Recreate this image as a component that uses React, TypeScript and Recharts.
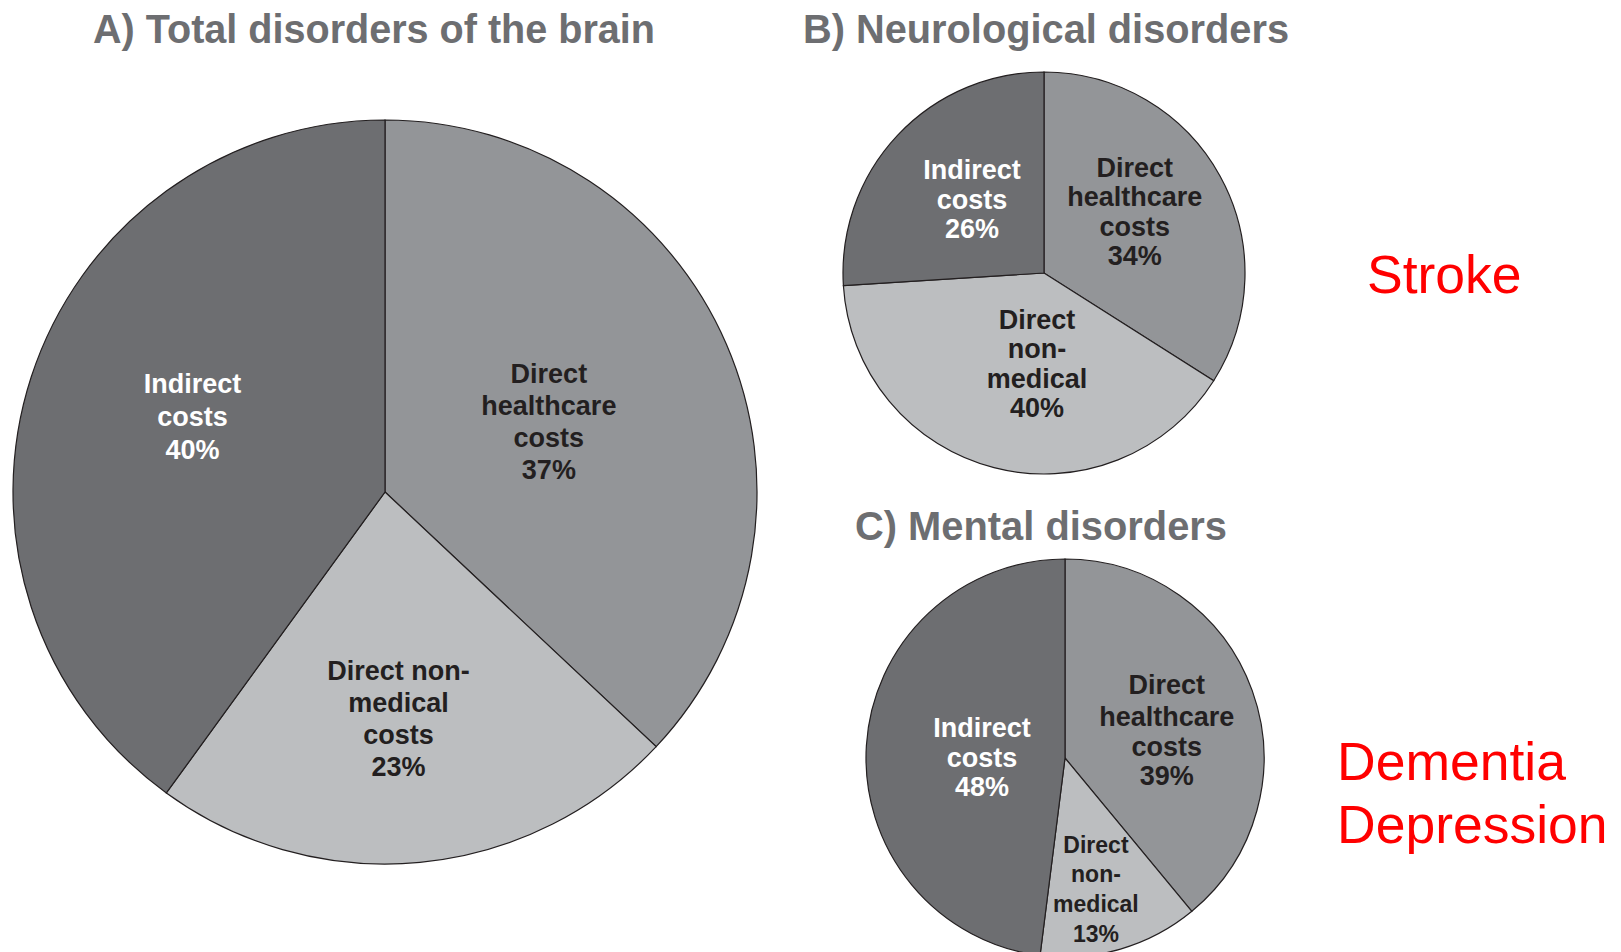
import { Cell, Pie, PieChart } from "recharts";

// slice order: clockwise from 12 o'clock
const categories = ["Direct healthcare costs", "Direct non-medical costs", "Indirect costs"];
const totalValues = [37, 23, 40];
const neuroValues = [34, 40, 26];
const mentalValues = [39, 13, 48];

const totalLabels = [["Direct", "healthcare", "costs"], ["Direct non-", "medical", "costs"], ["Indirect", "costs"]];
const neuroLabels = [["Direct", "healthcare", "costs"], ["Direct", "non-", "medical"], ["Indirect", "costs"]];
const mentalLabels = [["Direct", "healthcare", "costs"], ["Direct", "non-", "medical"], ["Indirect", "costs"]];

const panelTitles = ["A) Total disorders of the brain", "B) Neurological disorders", "C) Mental disorders"];
const strokeNotes = ["Stroke"];
const mentalNotes = ["Dementia", "Depression"];

const fills = ["#939598", "#bcbec0", "#6d6e71"];
const textFills = ["#231f20", "#231f20", "#ffffff"];
const font = "'Liberation Sans', Arial, Helvetica, sans-serif";
const RAD = Math.PI / 180;

const toRows = (values: number[], labels: string[][]) =>
    categories.map((name, i) => ({ name, value: values[i], lines: labels[i] }));

type LabelCfg = {
    radius: number[]
    shift: number[]
    sizes: number[]
    steps: (number | number[])[]
}

const makeLabel = (cfg: LabelCfg) => (props: any) => {
    const { cx, cy, midAngle, outerRadius, index, value, payload } = props;
    const r = outerRadius * cfg.radius[index];
    const a = (midAngle + cfg.shift[index]) * RAD;
    const x = cx + r * Math.cos(-a);
    const y = cy + r * Math.sin(-a);
    const rows: string[] = [...(payload.lines ?? []), `${value}%`];
    const step = cfg.steps[index];
    const offs = rows.map((_, i) => (Array.isArray(step) ? step[i] : i * step));
    const top = y - offs[offs.length - 1] / 2;
    return (
        <text
            x={x}
            y={top}
            textAnchor="middle"
            fill={textFills[index]}
            fontSize={cfg.sizes[index]}
            fontWeight="bold"
            fontFamily={font}
        >
            {rows.map((t, i) => (
                <tspan key={i} x={x} y={top + offs[i]} dy="0.36em">
                    {t}
                </tspan>
            ))}
        </text>
    );
};

export default function App() {
    const panels = [
        {
            data: toRows(totalValues, totalLabels), cx: 385, cy: 492, r: 372,
            label: makeLabel({ radius: [0.48, 0.61, 0.556], shift: [0, -2, -3.5], sizes: [27, 27, 27], steps: [32, 32, 33] }),
        },
        {
            data: toRows(neuroValues, neuroLabels), cx: 1044, cy: 273, r: 201,
            label: makeLabel({ radius: [0.547, 0.45, 0.514], shift: [5.5, 10, -2.6], sizes: [27, 27, 27], steps: [29.5, 29.5, 29.5] }),
        },
        {
            data: toRows(mentalValues, mentalLabels), cx: 1065, cy: 758, r: 199,
            label: makeLabel({ radius: [0.53, 0.676, 0.417], shift: [-4.4, -2.9, 2.9], sizes: [27, 23, 27], steps: [[0, 32, 61.5, 91], 29.7, 29.5] }),
        },
    ];

    return (
        <div style={{ position: "absolute", left: 0, top: 0, background: "#fff" }}>
            <PieChart width={1621} height={952} margin={{ top: 0, right: 0, bottom: 0, left: 0 }}>
                {panels.map((p, k) => (
                    <Pie
                        key={k}
                        data={p.data}
                        dataKey="value"
                        nameKey="name"
                        cx={p.cx}
                        cy={p.cy}
                        outerRadius={p.r}
                        startAngle={90}
                        endAngle={-270}
                        stroke="#231f20"
                        strokeWidth={1.2}
                        labelLine={false}
                        label={p.label}
                        isAnimationActive={false}
                    >
                        {p.data.map((_, i) => (
                            <Cell key={i} fill={fills[i]} />
                        ))}
                    </Pie>
                ))}
                <text x={93} y={43} fontSize={40} fontWeight="bold" fill="#6d6e71" fontFamily={font} textLength={562} lengthAdjust="spacingAndGlyphs">
                    {panelTitles[0]}
                </text>
                <text x={803} y={43} fontSize={40} fontWeight="bold" fill="#6d6e71" fontFamily={font} textLength={486} lengthAdjust="spacingAndGlyphs">
                    {panelTitles[1]}
                </text>
                <text x={855} y={540} fontSize={40} fontWeight="bold" fill="#6d6e71" fontFamily={font} textLength={372} lengthAdjust="spacingAndGlyphs">
                    {panelTitles[2]}
                </text>
                <text x={1367} y={293} fontSize={53.5} fill="#ff0000" fontFamily={font}>
                    {strokeNotes[0]}
                </text>
                {mentalNotes.map((t, i) => (
                    <text key={t} x={1337} y={780 + i * 63} fontSize={53.5} fill="#ff0000" fontFamily={font}>
                        {t}
                    </text>
                ))}
            </PieChart>
        </div>
    );
}
